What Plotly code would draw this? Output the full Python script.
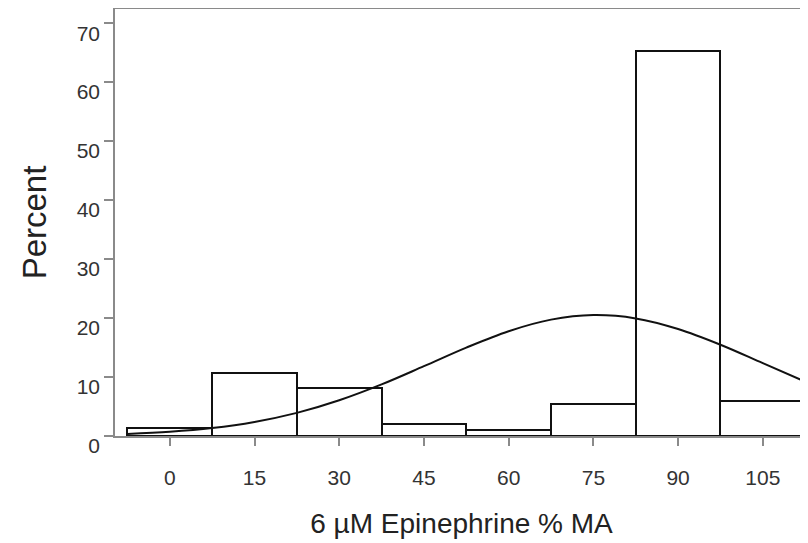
import plotly.graph_objects as go

# Histogram bins (centers, width 15) and percentages
bin_centers = [0, 15, 30, 45, 60, 75, 90, 105]
percent = [1.3, 10.6, 8.2, 2.0, 1.1, 5.4, 65.3, 6.0]
bin_width = 15

curve_x = [-7.5, 0, 7.5, 15, 22.5, 30, 37.5, 45, 52.5, 60, 67.5, 75, 82.5, 90, 97.5, 105, 113]
curve_y = [0.36, 0.72, 1.35, 2.38, 3.92, 6.06, 8.75, 11.84, 14.99, 17.77, 19.73, 20.5,
           19.94, 18.15, 15.48, 12.35, 9.0]

x_ticks = [0, 15, 30, 45, 60, 75, 90, 105]
y_ticks = [0, 10, 20, 30, 40, 50, 60, 70]

fig = go.Figure()
fig.add_trace(go.Bar(
    x=bin_centers, y=percent, width=[bin_width] * len(bin_centers),
    marker=dict(color="white", line=dict(color="#111111", width=2)),
    showlegend=False,
))
fig.add_trace(go.Scatter(
    x=curve_x, y=curve_y, mode="lines",
    line=dict(color="#111111", width=2, shape="spline"),
    showlegend=False,
))

font_family = "Liberation Sans, Arial, sans-serif"
fig.update_layout(
    width=808, height=543,
    margin=dict(l=107, r=8, t=1, b=115),
    plot_bgcolor="white", paper_bgcolor="white",
    bargap=0,
    font=dict(family=font_family, color="#333333"),
    xaxis=dict(
        range=[-9.7, 113], tickvals=x_ticks, ticktext=[str(v) for v in x_ticks],
        automargin=False,
        showgrid=False, zeroline=False,
        showline=True, linecolor="#8a8a8a", linewidth=1.5, mirror=True,
        ticks="outside", ticklen=8, tickcolor="#8a8a8a", tickwidth=1.5,
        tickfont=dict(size=21, color="#333333"),
        ticklabelstandoff=14,
        title=dict(text="6 µM Epinephrine % MA", font=dict(size=28, color="#222222"), standoff=25),
    ),
    yaxis=dict(
        range=[0, 72.4], tickvals=y_ticks, ticktext=[str(v) for v in y_ticks],
        automargin=False,
        showgrid=False, zeroline=False,
        showline=True, linecolor="#8a8a8a", linewidth=1.5,
        ticks="outside", ticklen=9, tickcolor="#8a8a8a", tickwidth=1.5,
        tickfont=dict(size=21, color="#333333"),
        ticklabelshift=10,
        title=dict(text="Percent", font=dict(size=33, color="#222222"), standoff=20),
    ),
)

fig.write_html("out.html")
